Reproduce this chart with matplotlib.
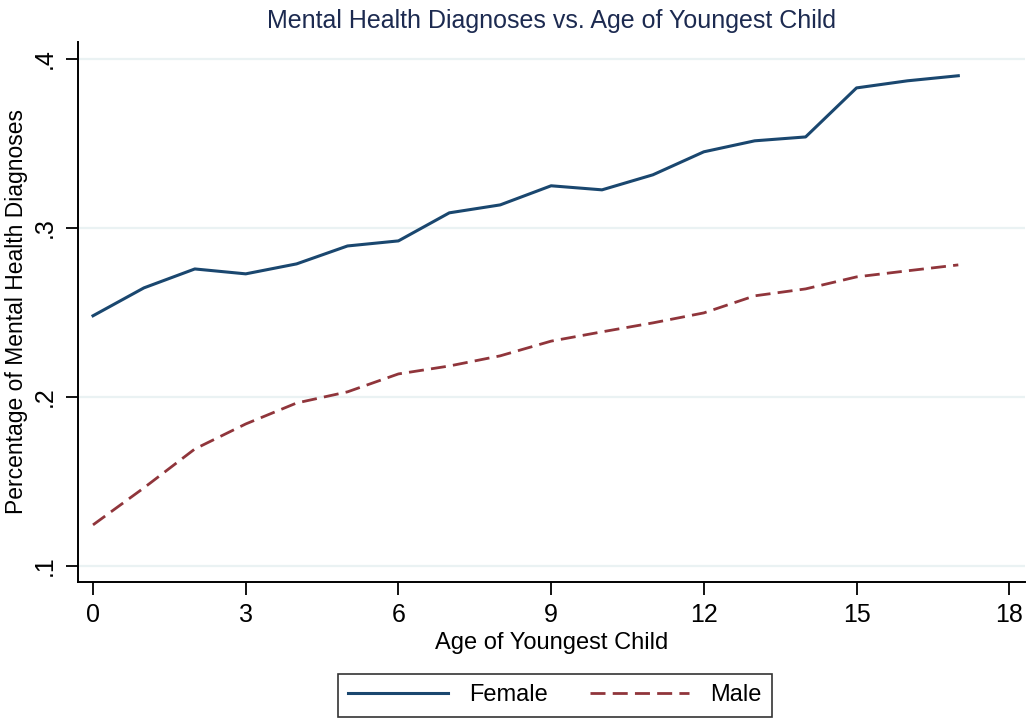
import numpy as np
import matplotlib
matplotlib.use("Agg")
import matplotlib.pyplot as plt
from matplotlib.ticker import FixedLocator

# data
ages = list(range(18))
female = [0.248, 0.2645, 0.2757, 0.2728, 0.2787, 0.2893, 0.2923, 0.3089, 0.3136,
          0.3249, 0.3225, 0.3314, 0.3450, 0.3515, 0.3538, 0.3828, 0.3870, 0.3900]
male = [0.1243, 0.1462, 0.1692, 0.1840, 0.1964, 0.2030, 0.2136, 0.2183, 0.2243,
        0.2330, 0.2385, 0.2438, 0.2497, 0.2598, 0.2639, 0.2710, 0.2746, 0.2781]
xticks = [0, 3, 6, 9, 12, 15, 18]
yticks = [0.1, 0.2, 0.3, 0.4]
ytick_labels = [".1", ".2", ".3", ".4"]

plt.rcParams['font.family'] = ['Liberation Sans', 'DejaVu Sans']

NAVY = '#1a476f'
MAROON = '#90353b'
TITLE = '#1c2a50'


def _main():
    fig = plt.figure(figsize=(10.29, 7.23), dpi=100)
    ax = fig.add_axes([0.0758, 0.195, 0.9203, 0.747])

    ax.plot(ages, female, color=NAVY, lw=2.2, label='Female')
    ax.plot(ages, male, color=MAROON, lw=2.0, dashes=(5.4, 2.6), label='Male')

    ax.set_xlim(-0.295, 18.31)
    ax.set_ylim(0.0905, 0.41)
    ax.xaxis.set_major_locator(FixedLocator(xticks))
    ax.set_yticks(yticks)
    ax.set_yticklabels(ytick_labels, rotation=90, va='center')
    ax.grid(axis='y', color='#eaf2f3', lw=1.6)
    ax.set_axisbelow(True)

    for s in ['top', 'right']:
        ax.spines[s].set_visible(False)
    for s in ['left', 'bottom']:
        ax.spines[s].set_linewidth(1.4)
    ax.tick_params(length=9, width=1.3, labelsize=18, pad=6)

    ax.set_xlabel('Age of Youngest Child', fontsize=17, labelpad=4)
    ax.set_ylabel('Percentage of Mental Health Diagnoses', fontsize=16.5, labelpad=4)
    ax.set_title('Mental Health Diagnoses vs. Age of Youngest Child',
                 fontsize=18, color=TITLE, pad=10)

    leg = fig.legend(loc='center', bbox_to_anchor=(0.5395, 0.0384), ncol=2,
                     fontsize=17, frameon=True, fancybox=False, handlelength=4.2,
                     columnspacing=1.8, borderpad=0.45, handletextpad=0.9)
    leg.get_frame().set_edgecolor('black')
    leg.get_frame().set_linewidth(1.2)

    fig.savefig('out.png', dpi=100)


if __name__ == '__main__':
    _main()
